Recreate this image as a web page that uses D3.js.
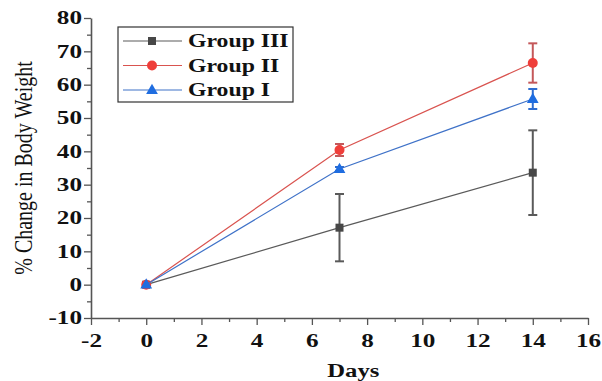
<!DOCTYPE html>
<html>
<head>
<meta charset="utf-8">
<script src="https://cdn.jsdelivr.net/npm/d3@7"></script>
<style>
  body { margin: 0; background: #fff; }
  svg { display: block; }
</style>
</head>
<body>
<div id="chart"></div>
<script>
// data
const days = [0, 7, 14];
const groupIII = [0, 17.1, 33.6];
const groupIIIErr = [0, 10.1, 12.7];
const groupII = [0, 40.4, 66.5];
const groupIIErr = [0, 1.8, 5.9];
const groupI = [0, 34.7, 55.7];
const groupIErr = [0, 0.6, 3.0];
const xTicks = [-2, 0, 2, 4, 6, 8, 10, 12, 14, 16];
const yTicks = [-10, 0, 10, 20, 30, 40, 50, 60, 70, 80];

const width = 602, height = 381;
const margin = {top: 18, right: 14, bottom: 63, left: 91};

const series = [
  {name: 'Group III', values: groupIII, err: groupIIIErr, line: '#5a5a5a', fill: '#474747', errColor: '#5a5a5a', shape: 'square'},
  {name: 'Group II', values: groupII, err: groupIIErr, line: '#d9534f', fill: '#ef3e3a', errColor: '#c4585a', shape: 'circle'},
  {name: 'Group I', values: groupI, err: groupIErr, line: '#3f72c8', fill: '#1f6de0', errColor: '#2f6dd0', shape: 'triangle'},
];

const svg = d3.select('#chart').append('svg')
  .attr('width', width)
  .attr('height', height);

const x = d3.scaleLinear().domain([-2, 16]).range([margin.left, width - margin.right]);
const y = d3.scaleLinear().domain([-10, 80]).range([height - margin.bottom, margin.top]);

const serif = '"Liberation Serif", "Times New Roman", serif';
const stretch = 1.4;
const fmt = d => String(d); // plain hyphen for negatives, like the original

// minor ticks
svg.append('g')
  .attr('transform', `translate(${margin.left},0)`)
  .call(d3.axisLeft(y).tickValues(d3.range(-5, 80, 10)).tickSize(4).tickFormat(''))
  .call(g => g.select('.domain').remove())
  .selectAll('line').attr('stroke', '#555').attr('stroke-width', 1.3);
svg.append('g')
  .attr('transform', `translate(0,${y(-10)})`)
  .call(d3.axisBottom(x).tickValues(d3.range(-1, 16, 2)).tickSize(4).tickFormat(''))
  .call(g => g.select('.domain').remove())
  .selectAll('line').attr('stroke', '#555').attr('stroke-width', 1.3);

// major axes
const yAxis = svg.append('g')
  .attr('transform', `translate(${margin.left},0)`)
  .call(d3.axisLeft(y).tickValues(yTicks).tickFormat(fmt).tickSize(7).tickSizeOuter(0).tickPadding(9));
const xAxis = svg.append('g')
  .attr('transform', `translate(0,${y(-10)})`)
  .call(d3.axisBottom(x).tickValues(xTicks).tickFormat(fmt).tickSize(7).tickSizeOuter(0).tickPadding(9));

[xAxis, yAxis].forEach(ax => {
  ax.select('.domain').attr('stroke', '#555').attr('stroke-width', 1.6);
  ax.selectAll('.tick line').attr('stroke', '#555').attr('stroke-width', 1.3);
  ax.selectAll('.tick text')
    .attr('fill', '#111')
    .style('font-family', serif)
    .style('font-weight', 'bold')
    .style('font-size', '18px');
});
yAxis.selectAll('.tick text')
  .attr('x', -9 / stretch)
  .attr('transform', `scale(${stretch},1)`);
xAxis.selectAll('.tick text')
  .attr('transform', `scale(${stretch},1)`);

// axis titles
svg.append('text')
  .attr('transform', `translate(${x(7.5)},377) scale(1.3,1)`)
  .attr('text-anchor', 'middle')
  .style('font-family', serif)
  .style('font-weight', 'bold')
  .style('font-size', '19px')
  .attr('fill', '#111')
  .text('Days');

svg.append('text')
  .attr('transform', `translate(32,${y(35)}) scale(1.3,1) rotate(-90)`)
  .attr('text-anchor', 'middle')
  .style('font-family', serif)
  .style('font-size', '20px')
  .attr('fill', '#111')
  .text('% Change in Body Weight');

const line = d3.line().x(d => x(d[0])).y(d => y(d[1]));

function drawMarker(g, shape, color) {
  if (shape === 'square') {
    g.append('rect').attr('x', -4).attr('y', -4).attr('width', 8).attr('height', 8).attr('fill', color);
  } else if (shape === 'circle') {
    g.append('circle').attr('r', 5).attr('fill', color);
  } else {
    g.append('path').attr('d', d3.symbol(d3.symbolTriangle, 60)()).attr('transform', 'translate(0,0.5)').attr('fill', color);
  }
}

series.forEach(s => {
  const pts = days.map((d, i) => [d, s.values[i], s.err[i]]);
  const g = svg.append('g');
  g.append('path')
    .datum(pts)
    .attr('d', line)
    .attr('fill', 'none')
    .attr('stroke', s.line)
    .attr('stroke-width', 1.2);

  pts.filter(p => p[2] > 0).forEach(p => {
    const cx = x(p[0]);
    const eg = g.append('g').attr('stroke', s.errColor).attr('stroke-width', 2);
    eg.append('line').attr('x1', cx).attr('x2', cx).attr('y1', y(p[1] - p[2])).attr('y2', y(p[1] + p[2]));
    [p[1] - p[2], p[1] + p[2]].forEach(v => {
      eg.append('line').attr('x1', cx - 4.5).attr('x2', cx + 4.5).attr('y1', y(v)).attr('y2', y(v));
    });
  });

  pts.forEach(p => {
    const mg = g.append('g').attr('transform', `translate(${x(p[0])},${y(p[1])})`);
    drawMarker(mg, s.shape, s.fill);
  });
});

// legend
const legend = svg.append('g').attr('transform', 'translate(118,27)');
legend.append('rect')
  .attr('width', 175).attr('height', 75)
  .attr('fill', '#fff').attr('stroke', '#333').attr('stroke-width', 1.2);
series.forEach((s, i) => {
  const row = legend.append('g').attr('transform', `translate(0,${14 + i * 24.5})`);
  row.append('line').attr('x1', 5).attr('x2', 64).attr('stroke', s.line).attr('stroke-width', 1.2);
  const mg = row.append('g').attr('transform', 'translate(34,0)');
  drawMarker(mg, s.shape, s.fill);
  row.append('text')
    .attr('transform', 'translate(70,0) scale(1.25,1)')
    .attr('dy', '0.33em')
    .style('font-family', serif)
    .style('font-weight', 'bold')
    .style('font-size', '19px')
    .attr('fill', '#111')
    .text(s.name);
});
</script>
</body>
</html>
